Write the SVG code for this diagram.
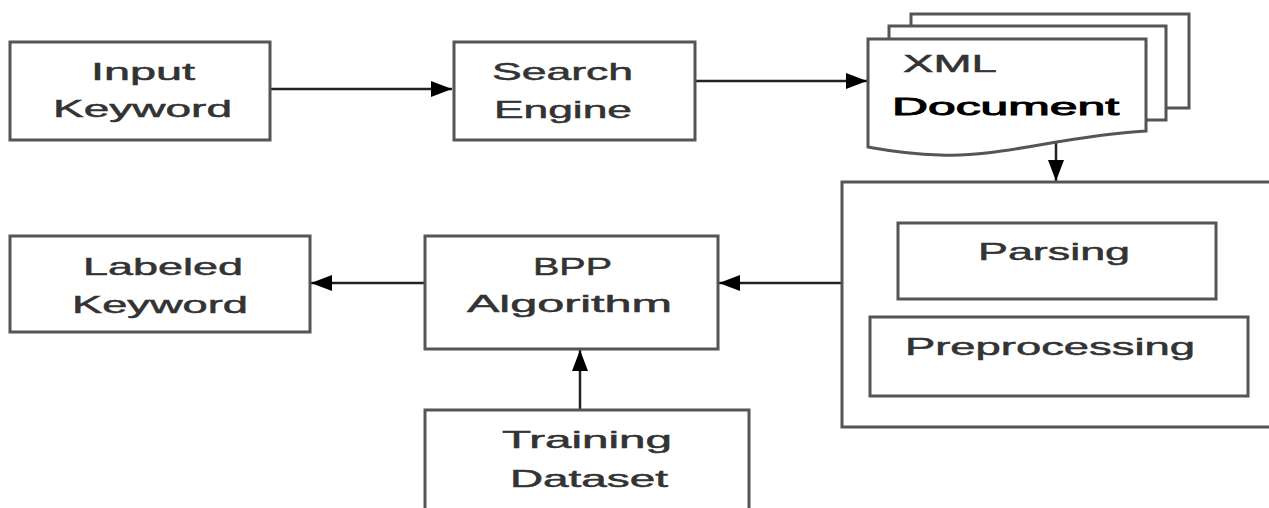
<svg xmlns="http://www.w3.org/2000/svg" width="1269" height="508" viewBox="0 0 1269 508">
<style>
.box{fill:#fff;stroke:#555;stroke-width:3}
.t{font-family:"Liberation Sans",Arial,sans-serif;font-size:24px;fill:#333;stroke:#333;stroke-width:0.5}
.c{fill:none;stroke:#222;stroke-width:2.5}
</style>
<defs>
<marker id="ah" markerUnits="userSpaceOnUse" markerWidth="24" markerHeight="18" refX="21" refY="9" orient="auto">
<path d="M0,1 L21,9 L0,17 Z" fill="#000"/>
</marker>
</defs>
<rect width="1269" height="508" fill="#fff"/>
<g id="connectors">
<line class="c" x1="271" y1="89" x2="452" y2="89" marker-end="url(#ah)"/>
<line class="c" x1="696" y1="81" x2="867" y2="81" marker-end="url(#ah)"/>
<line class="c" x1="1056" y1="138" x2="1056" y2="181" stroke-width="4" marker-end="url(#ah)"/>
<line class="c" x1="842" y1="283" x2="719" y2="283" marker-end="url(#ah)"/>
<line class="c" x1="425" y1="283" x2="311" y2="283" marker-end="url(#ah)"/>
<line class="c" x1="580" y1="410" x2="580" y2="350" stroke-width="4" marker-end="url(#ah)"/>
</g>
<g id="input-keyword">
<rect class="box" x="10" y="42" width="260" height="98"/>
<text class="t" x="91" y="80" textLength="104" lengthAdjust="spacingAndGlyphs">Input</text>
<text class="t" x="53" y="117" textLength="179" lengthAdjust="spacingAndGlyphs">Keyword</text>
</g>
<g id="search-engine">
<rect class="box" x="454" y="42" width="241" height="98"/>
<text class="t" x="492" y="80" textLength="141" lengthAdjust="spacingAndGlyphs">Search</text>
<text class="t" x="494" y="118" textLength="138" lengthAdjust="spacingAndGlyphs">Engine</text>
</g>
<g id="xml-document">
<path class="box" d="M911,26 V14 H1189 V108 H1166"/>
<path class="box" d="M889,39 V26 H1166 V120 H1146"/>
<path class="box" d="M868,39 H1146 V131 C1060,136 1000,158 940,155 C905,154 885,150 868,147 Z"/>
<text class="t" x="903" y="72" textLength="94" lengthAdjust="spacingAndGlyphs">XML</text>
<text class="t" x="892" y="115" textLength="227" lengthAdjust="spacingAndGlyphs" style="fill:#000;stroke:#000;stroke-width:0.9">Document</text>
</g>
<g id="processing">
<rect class="box" x="842" y="182" width="430" height="245"/>
</g>
<g id="parsing">
<rect class="box" x="898" y="223" width="318" height="76"/>
<text class="t" x="978" y="260" textLength="152" lengthAdjust="spacingAndGlyphs">Parsing</text>
</g>
<g id="preprocessing">
<rect class="box" x="870" y="317" width="378" height="79"/>
<text class="t" x="905" y="355" textLength="290" lengthAdjust="spacingAndGlyphs">Preprocessing</text>
</g>
<g id="bpp-algorithm">
<rect class="box" x="425" y="236" width="293" height="113"/>
<text class="t" x="533" y="275" textLength="79" lengthAdjust="spacingAndGlyphs">BPP</text>
<text class="t" x="467" y="312" textLength="205" lengthAdjust="spacingAndGlyphs">Algorithm</text>
</g>
<g id="labeled-keyword">
<rect class="box" x="10" y="236" width="300" height="96"/>
<text class="t" x="83" y="275" textLength="160" lengthAdjust="spacingAndGlyphs">Labeled</text>
<text class="t" x="72" y="313" textLength="176" lengthAdjust="spacingAndGlyphs">Keyword</text>
</g>
<g id="training-dataset">
<rect class="box" x="425" y="410" width="324" height="110"/>
<text class="t" x="502" y="448" textLength="170" lengthAdjust="spacingAndGlyphs">Training</text>
<text class="t" x="510" y="487" textLength="158" lengthAdjust="spacingAndGlyphs">Dataset</text>
</g>
</svg>
